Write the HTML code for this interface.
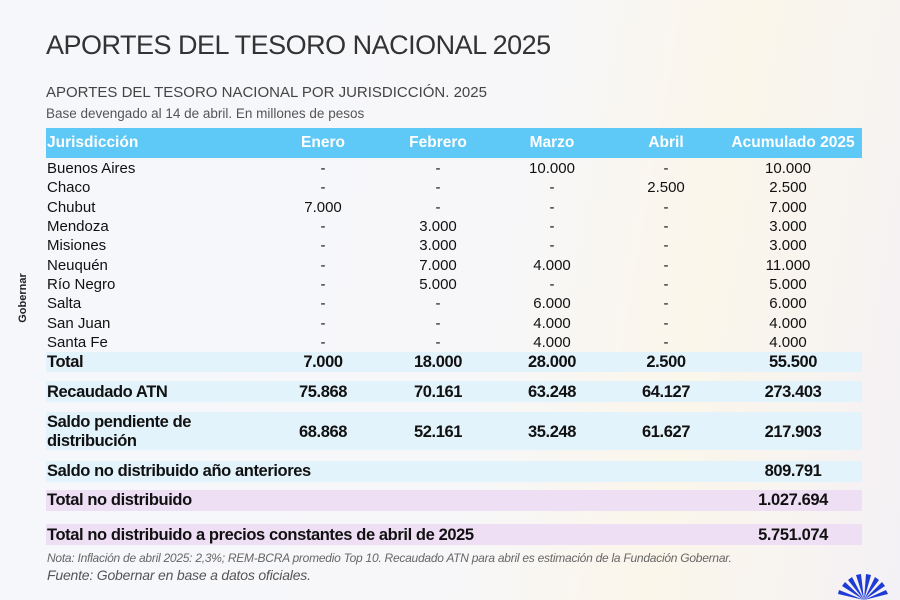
<!DOCTYPE html>
<html><head><meta charset="utf-8"><style>
*{margin:0;padding:0;box-sizing:border-box}
body{width:900px;height:600px;overflow:hidden;position:relative;font-family:"Liberation Sans",sans-serif;color:#111;
background:linear-gradient(100deg,#f6f7fb 0%,#f7f7f9 55%,#fbf6ea 75%,#f4f1f6 100%)}
.a{position:absolute;white-space:nowrap}
.band{position:absolute;left:46px;width:816px}
.r{position:absolute;left:46px;width:816px;height:20px;font-size:15px;line-height:20px}
.r span{position:absolute;top:1px;transform:translateX(-50%);white-space:nowrap}
.r span.l{left:1px;transform:none}
.b{font-weight:bold;font-size:16.5px;letter-spacing:-0.4px}
</style></head><body>
<div class="a" style="left:46px;top:30px;font-size:27px;color:#333;letter-spacing:-0.5px">APORTES DEL TESORO NACIONAL 2025</div>
<div class="a" style="left:46px;top:84px;font-size:15px;color:#444">APORTES DEL TESORO NACIONAL POR JURISDICCIÓN. 2025</div>
<div class="a" style="left:46px;top:106px;font-size:13.5px;color:#555">Base devengado al 14 de abril. En millones de pesos</div>
<div class="a" style="left:-2px;top:292px;font-size:11px;font-weight:bold;color:#222;transform:rotate(-90deg);transform-origin:center">Gobernar</div>

<div class="band" style="top:128px;height:30px;background:#5ec8f6"></div>
<div class="band" style="top:352px;height:20px;background:#e2f3fb"></div>
<div class="band" style="top:381px;height:21px;background:#e2f3fb"></div>
<div class="band" style="top:412px;height:38px;background:#e2f3fb"></div>
<div class="band" style="top:461px;height:21px;background:#e2f3fb"></div>
<div class="band" style="top:490px;height:21px;background:#efdff5"></div>
<div class="band" style="top:524px;height:21px;background:#efdff5"></div>

<div class="r" style="top:132px;color:#fff;font-weight:bold;font-size:15.5px"><span class="l">Jurisdicción</span><span style="left:277px">Enero</span><span style="left:392px">Febrero</span><span style="left:506px">Marzo</span><span style="left:620px">Abril</span><span style="left:747px">Acumulado 2025</span></div>

<div class="r" style="top:158px"><span class="l">Buenos Aires</span><span style="left:277px">-</span><span style="left:392px">-</span><span style="left:506px">10.000</span><span style="left:620px">-</span><span style="left:742px">10.000</span></div>
<div class="r" style="top:177px"><span class="l">Chaco</span><span style="left:277px">-</span><span style="left:392px">-</span><span style="left:506px">-</span><span style="left:620px">2.500</span><span style="left:742px">2.500</span></div>
<div class="r" style="top:197px"><span class="l">Chubut</span><span style="left:277px">7.000</span><span style="left:392px">-</span><span style="left:506px">-</span><span style="left:620px">-</span><span style="left:742px">7.000</span></div>
<div class="r" style="top:216px"><span class="l">Mendoza</span><span style="left:277px">-</span><span style="left:392px">3.000</span><span style="left:506px">-</span><span style="left:620px">-</span><span style="left:742px">3.000</span></div>
<div class="r" style="top:235px"><span class="l">Misiones</span><span style="left:277px">-</span><span style="left:392px">3.000</span><span style="left:506px">-</span><span style="left:620px">-</span><span style="left:742px">3.000</span></div>
<div class="r" style="top:255px"><span class="l">Neuquén</span><span style="left:277px">-</span><span style="left:392px">7.000</span><span style="left:506px">4.000</span><span style="left:620px">-</span><span style="left:742px">11.000</span></div>
<div class="r" style="top:274px"><span class="l">Río Negro</span><span style="left:277px">-</span><span style="left:392px">5.000</span><span style="left:506px">-</span><span style="left:620px">-</span><span style="left:742px">5.000</span></div>
<div class="r" style="top:293px"><span class="l">Salta</span><span style="left:277px">-</span><span style="left:392px">-</span><span style="left:506px">6.000</span><span style="left:620px">-</span><span style="left:742px">6.000</span></div>
<div class="r" style="top:313px"><span class="l">San Juan</span><span style="left:277px">-</span><span style="left:392px">-</span><span style="left:506px">4.000</span><span style="left:620px">-</span><span style="left:742px">4.000</span></div>
<div class="r" style="top:332px"><span class="l">Santa Fe</span><span style="left:277px">-</span><span style="left:392px">-</span><span style="left:506px">4.000</span><span style="left:620px">-</span><span style="left:742px">4.000</span></div>

<div class="r b" style="top:351px"><span class="l">Total</span><span style="left:277px">7.000</span><span style="left:392px">18.000</span><span style="left:506px">28.000</span><span style="left:620px">2.500</span><span style="left:747px">55.500</span></div>
<div class="r b" style="top:381px"><span class="l">Recaudado ATN</span><span style="left:277px">75.868</span><span style="left:392px">70.161</span><span style="left:506px">63.248</span><span style="left:620px">64.127</span><span style="left:747px">273.403</span></div>
<div class="r b" style="top:411px"><span class="l">Saldo pendiente de</span></div>
<div class="r b" style="top:421px"><span style="left:277px">68.868</span><span style="left:392px">52.161</span><span style="left:506px">35.248</span><span style="left:620px">61.627</span><span style="left:747px">217.903</span></div>
<div class="r b" style="top:430px"><span class="l">distribución</span></div>
<div class="r b" style="top:460px"><span class="l">Saldo no distribuido año anteriores</span><span style="left:747px">809.791</span></div>
<div class="r b" style="top:489px"><span class="l">Total no distribuido</span><span style="left:747px">1.027.694</span></div>
<div class="r b" style="top:524px"><span class="l">Total no distribuido a precios constantes de abril de 2025</span><span style="left:747px">5.751.074</span></div>

<div class="a" style="left:47px;top:551px;font-size:12px;font-style:italic;color:#666;letter-spacing:-0.25px">Nota: Inflación de abril 2025: 2,3%; REM-BCRA promedio Top 10. Recaudado ATN para abril es estimación de la Fundación Gobernar.</div>
<div class="a" style="left:47px;top:567px;font-size:14px;font-style:italic;color:#555;letter-spacing:-0.2px">Fuente: Gobernar en base a datos oficiales.</div>

<svg class="a" style="left:836px;top:574px" width="56" height="26" viewBox="0 0 56 26">
<g fill="#1f3bd6">
<path d="M28 26 L6 12 L9 8 Z"/><path d="M28 26 L12 6 L16 3 Z"/><path d="M28 26 L20 1 L25 0 Z"/>
<path d="M28 26 L30 0 L35 1 Z"/><path d="M28 26 L39 3 L43 6 Z"/><path d="M28 26 L46 8 L49 12 Z"/>
<path d="M28 26 L50 16 L52 20 Z"/><path d="M28 26 L3 16 L2 20 Z"/>
</g></svg>
</body></html>
